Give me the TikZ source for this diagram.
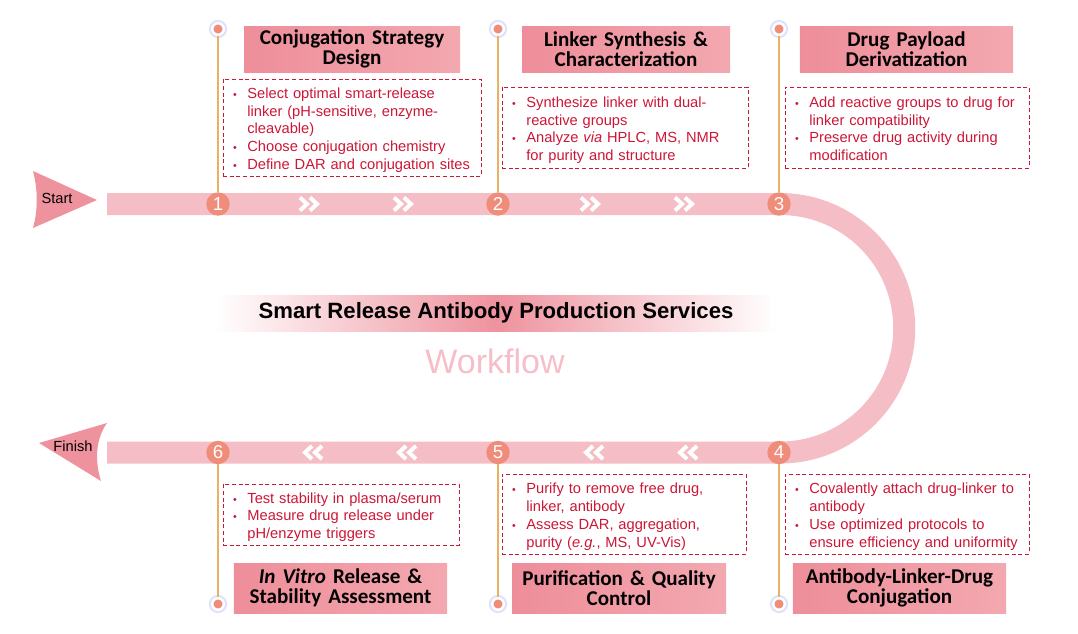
\documentclass[tikz,border=0pt]{standalone}
\usepackage{fontspec}
\setmainfont{Liberation Sans}
\newfontfamily\ttlfont{Carlito}

\definecolor{bandpink}{RGB}{245,190,198}
\definecolor{stepsalmon}{RGB}{240,140,122}
\definecolor{stemorange}{RGB}{233,178,98}
\definecolor{txtred}{RGB}{204,22,54}
\definecolor{ttlA}{RGB}{238,142,154}
\definecolor{ttlB}{RGB}{243,168,176}
\definecolor{arrowpink}{RGB}{238,146,158}
\definecolor{glow}{RGB}{222,226,250}
\definecolor{wfpink}{RGB}{246,190,200}

\newcommand{\bul}{{\fontsize{8}{8}\selectfont\textbullet}}
\newcommand{\lowered}[1]{\raisebox{-2.2pt}[\height][\depth]{#1}}

\tikzset{
  band/.style={draw=bandpink, line width=16.5pt},
  stepnum/.style={circle, fill=stepsalmon, text=white, inner sep=0pt, minimum size=17.5pt, font=\fontsize{14}{14}\selectfont},
  stemdot/.style={circle, fill=stepsalmon, draw=white, line width=1.8pt, inner sep=0pt, minimum size=8.6pt, preaction={draw=glow, line width=5pt}},
  stem/.style={draw=stemorange, line width=0.9pt},
  ttlbox/.style={left color=ttlA, right color=ttlB, text=black, align=center, inner sep=0pt, font=\ttlfont\bfseries\fontsize{15.8}{15.3}\selectfont},
  infobox/.style={draw=txtred, dash pattern=on 3pt off 2pt, line width=0.75pt, text=txtred, align=left, inner xsep=7.5pt, inner ysep=0pt, font=\fontsize{11}{13.3}\selectfont},
  chev/.style={draw=white, line width=3pt, miter limit=4},
  banner/.style={left color=white, right color=white, middle color=arrowpink, minimum width=421.5pt, minimum height=27pt, inner sep=0pt, font=\bfseries\fontsize{16.6}{16.6}\selectfont},
}

\begin{document}
\begin{tikzpicture}[x=0.75pt, y=-0.75pt]
\useasboundingbox (0,0) rectangle (1078,633);

% the track
\draw[band] (107,204) -- (780,204) arc[start angle=-90, end angle=90, radius=124.25] -- (107,452.5);

% start and finish
\fill[arrowpink] (33,171) .. controls (38,190) and (38,210) .. (33,228) -- (97,200) -- cycle;
\node[font=\fontsize{11}{11}\selectfont] (start) at (57,198) {Start};
\fill[arrowpink] (107,423) .. controls (95,440) and (95,462) .. (101,481) -- (39,443) -- cycle;
\node[font=\fontsize{11}{11}\selectfont] (finish) at (73,446) {Finish};

% chevrons
\draw[chev] (300,197.5) -- (307,204) -- (300,210.5) (310,197.5) -- (317,204) -- (310,210.5);
\draw[chev] (394,197.5) -- (401,204) -- (394,210.5) (404,197.5) -- (411,204) -- (404,210.5);
\draw[chev] (581,197.5) -- (588,204) -- (581,210.5) (591,197.5) -- (598,204) -- (591,210.5);
\draw[chev] (675,197.5) -- (682,204) -- (675,210.5) (685,197.5) -- (692,204) -- (685,210.5);
\draw[chev] (322,446) -- (315,452.5) -- (322,459) (312,446) -- (305,452.5) -- (312,459);
\draw[chev] (416,446) -- (409,452.5) -- (416,459) (406,446) -- (399,452.5) -- (406,459);
\draw[chev] (603,446) -- (596,452.5) -- (603,459) (593,446) -- (586,452.5) -- (593,459);
\draw[chev] (697,446) -- (690,452.5) -- (697,459) (687,446) -- (680,452.5) -- (687,459);

% step numbers
\node[stepnum] (n1) at (218,204) {1};
\node[stepnum] (n2) at (498,204) {2};
\node[stepnum] (n3) at (779,204) {3};
\node[stepnum] (n4) at (779,452.5) {4};
\node[stepnum] (n5) at (498,452.5) {5};
\node[stepnum] (n6) at (218,452.5) {6};

% end dots
\node[stemdot] (p1) at (218,29) {};
\node[stemdot] (p2) at (498,29) {};
\node[stemdot] (p3) at (779,29) {};
\node[stemdot] (p4) at (779,604) {};
\node[stemdot] (p5) at (498,604) {};
\node[stemdot] (p6) at (218,604) {};

\draw[stem] (p1) -- (n1);
\draw[stem] (p2) -- (n2);
\draw[stem] (p3) -- (n3);
\draw[stem] (n4) -- (p4);
\draw[stem] (n5) -- (p5);
\draw[stem] (n6) -- (p6);

% titles
\node[ttlbox, text width=162pt, minimum height=34.5pt] (t1) at (352,49) {Conjugation Strategy\\Design};
\node[ttlbox, text width=156pt, minimum height=34.5pt] (t2) at (626,49) {Linker Synthesis \&\\Characterization};
\node[ttlbox, text width=160pt, minimum height=34.5pt] (t3) at (906.5,49) {Drug Payload\\Derivatization};
\node[ttlbox, text width=160pt, minimum height=37.5pt] (t4) at (899.5,588) {Antibody-Linker-Drug\\Conjugation};
\node[ttlbox, text width=160.5pt, minimum height=37.5pt] (t5) at (619,588) {Purification \& Quality\\Control};
\node[ttlbox, text width=160pt, minimum height=37.5pt] (t6) at (340.5,588) {\textit{In Vitro} Release \&\\Stability Assessment};

% details
\node[infobox, text width=178.5pt, minimum height=72.75pt] (d1) at (352,127.5) {\lowered{%
\begin{tabular}{@{}l@{\hspace{8pt}}l@{}}
\bul & Select optimal smart-release\\
 & linker (pH-sensitive, enzyme-\\
 & cleavable)\\
\bul & Choose conjugation chemistry\\
\bul & Define DAR and conjugation sites
\end{tabular}}};
\node[infobox, text width=169.5pt, minimum height=60.75pt] (d2) at (625,127.5) {\lowered{%
\begin{tabular}{@{}l@{\hspace{8pt}}l@{}}
\bul & Synthesize linker with dual-\\
 & reactive groups\\
\bul & Analyze \textit{via} HPLC, MS, NMR\\
 & for purity and structure
\end{tabular}}};
\node[infobox, text width=168pt, minimum height=60.75pt] (d3) at (907,127.5) {\lowered{%
\begin{tabular}{@{}l@{\hspace{8pt}}l@{}}
\bul & Add reactive groups to drug for\\
 & linker compatibility\\
\bul & Preserve drug activity during\\
 & modification
\end{tabular}}};
\node[infobox, text width=168pt, minimum height=60pt] (d4) at (907,514) {\lowered{%
\begin{tabular}{@{}l@{\hspace{8pt}}l@{}}
\bul & Covalently attach drug-linker to\\
 & antibody\\
\bul & Use optimized protocols to\\
 & ensure efficiency and uniformity
\end{tabular}}};
\node[infobox, text width=168pt, minimum height=60pt] (d5) at (624,514) {\lowered{%
\begin{tabular}{@{}l@{\hspace{8pt}}l@{}}
\bul & Purify to remove free drug,\\
 & linker, antibody\\
\bul & Assess DAR, aggregation,\\
 & purity (\textit{e.g.}, MS, UV-Vis)
\end{tabular}}};
\node[infobox, text width=162pt, minimum height=45.75pt] (d6) at (341,514.5) {\lowered{%
\begin{tabular}{@{}l@{\hspace{8pt}}l@{}}
\bul & Test stability in plasma/serum\\
\bul & Measure drug release under\\
 & pH/enzyme triggers
\end{tabular}}};

% heading
\node[banner] (head) at (496,313) {Smart Release Antibody Production Services};
\node[text=wfpink, font=\fontsize{25.5}{25.5}\selectfont] (wf) at (495,361) {Workflow};
\end{tikzpicture}
\end{document}
